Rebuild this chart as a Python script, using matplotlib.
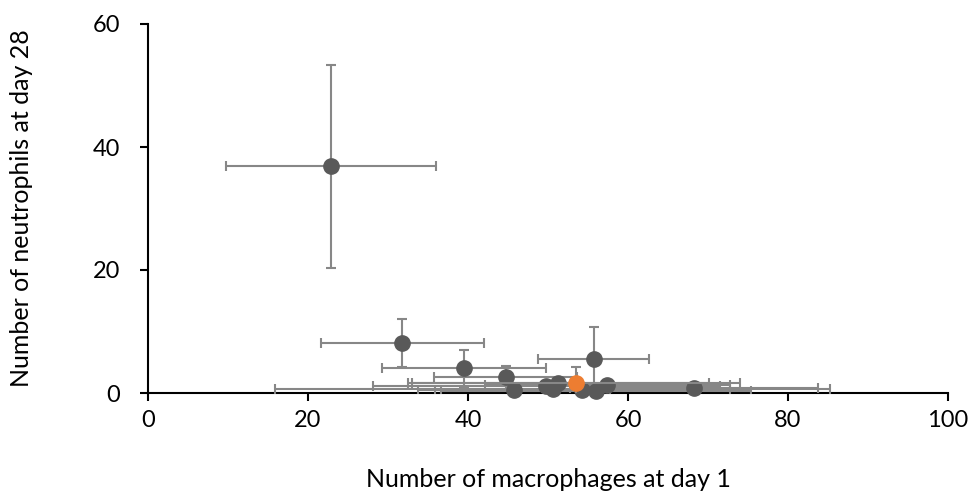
import matplotlib
matplotlib.use("Agg")
import matplotlib.pyplot as plt

plt.rcParams['font.family'] = ['Lato', 'DejaVu Sans']

# Data
mac_x = [22.9, 31.8, 39.5, 44.7, 45.8, 49.8, 50.6, 51.3, 54.3, 56.0, 55.7, 57.4, 68.3]
neu_y = [36.9, 8.2, 4.0, 2.55, 0.5, 1.2, 0.7, 1.7, 0.5, 0.3, 5.5, 1.3, 0.75]
mac_err = [13.1, 10.2, 10.3, 8.9, 12.0, 21.7, 34.7, 18.8, 18.4, 19.4, 6.9, 15.3, 15.5]
neu_err = [16.5, 3.9, 3.0, 1.9, 0.5, 0.6, 0.4, 0.8, 0.5, 0.3, 5.3, 0.7, 0.6]

hl_x = [53.5]
hl_y = [1.7]
hl_xerr = [20.5]
hl_yerr = [2.6]

fig = plt.figure(figsize=(9.73, 4.92), dpi=100)
ax = fig.add_axes([148/973, 1-393/492, 800/973, 369/492])

eb1 = ax.errorbar(mac_x, neu_y, xerr=mac_err, yerr=neu_err, fmt='o', color='#595959',
                  ecolor='#878787', elinewidth=1.5, capsize=3.5, capthick=1.5,
                  markersize=11, zorder=3)
eb1[0].set_clip_on(False)
eb2 = ax.errorbar(hl_x, hl_y, xerr=hl_xerr, yerr=hl_yerr, fmt='o', color='#ED7D31',
                  ecolor='#878787', elinewidth=1.5, capsize=3.5, capthick=1.5,
                  markersize=11, zorder=4)
eb2[0].set_clip_on(False)

ax.set_xlim(0, 100)
ax.set_ylim(0, 60)
ax.set_xticks([0, 20, 40, 60, 80, 100])
ax.set_yticks([0, 20, 40, 60])
for s in ['top', 'right']:
    ax.spines[s].set_visible(False)
for s in ['left', 'bottom']:
    ax.spines[s].set_linewidth(1.5)
    ax.spines[s].set_color('black')
ax.tick_params(axis='both', direction='out', length=6, width=1.5, labelsize=17)
ax.tick_params(axis='y', pad=14)
ax.tick_params(axis='x', pad=6)

ax.set_xlabel('Number of macrophages at day 1', fontsize=18, labelpad=27)
ax.set_ylabel('Number of neutrophils at day 28', fontsize=18, labelpad=43)

fig.savefig('out.png', dpi=100)
